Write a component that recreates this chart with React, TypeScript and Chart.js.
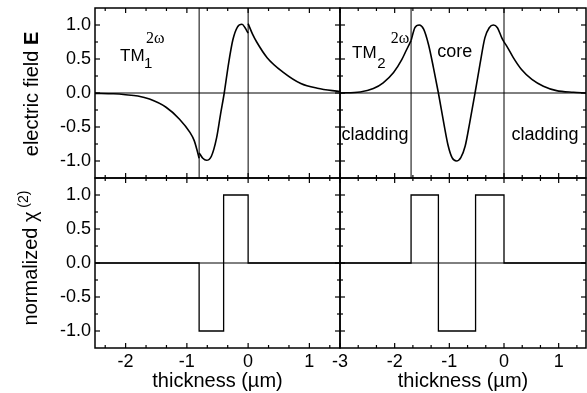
import React, { useEffect, useRef } from "react";
import { Chart, registerables } from "chart.js";
Chart.register(...registerables);

const FONT = "'Liberation Sans', Arial, sans-serif";
const SERIF = "'Liberation Serif', 'Times New Roman', serif";

// ---------- data: TM1 (2ω) electric field, left panel ----------
const tm1CladLeftX = [-2.5, -2.2, -2.0, -1.8, -1.61, -1.34, -1.12, -0.95, -0.88, -0.84, -0.8];
const tm1CladLeftY = [-0.005, -0.012, -0.025, -0.045, -0.09, -0.21, -0.385, -0.58, -0.7, -0.82, -0.96];
const tm1CoreX = [-0.8, -0.74, -0.68, -0.6, -0.515, -0.45, -0.39, -0.32, -0.25, -0.175, -0.1, -0.05, 0];
const tm1CoreY = [-0.88, -0.96, -0.99, -0.93, -0.66, -0.31, 0, 0.43, 0.78, 0.97, 1.01, 0.96, 0.88];
const tm1CladRightX = [0, 0.07, 0.14, 0.31, 0.58, 0.86, 1.13, 1.5];
const tm1CladRightY = [1.02, 0.87, 0.75, 0.52, 0.3, 0.14, 0.07, 0.02];

// ---------- data: TM2 (2ω) electric field, right panel ----------
const tm2CladLeftX = [-3.0, -2.63, -2.39, -2.21, -2.02, -1.87, -1.78, -1.7];
const tm2CladLeftY = [0.0, 0.015, 0.065, 0.15, 0.3, 0.49, 0.64, 0.77];
const tm2CoreX = [-1.7, -1.63, -1.55, -1.47, -1.38, -1.29, -1.2, -1.1, -1.02, -0.95, -0.87, -0.79, -0.71, -0.63, -0.53, -0.44, -0.35, -0.27, -0.195, -0.12, -0.04, 0];
const tm2CoreY = [0.77, 0.96, 1.0, 0.94, 0.71, 0.37, 0, -0.45, -0.78, -0.95, -1.0, -0.95, -0.78, -0.45, 0, 0.42, 0.81, 0.96, 1.0, 0.96, 0.81, 0.75];
const tm2CladRightX = [0, 0.05, 0.17, 0.32, 0.51, 0.72, 0.96, 1.27, 1.5];
const tm2CladRightY = [0.75, 0.69, 0.52, 0.345, 0.2, 0.1, 0.035, 0.01, 0.0];

// ---------- data: normalized chi(2) profiles (each value holds from its x to the next x) ----------
const chi1X = [-2.5, -0.8, -0.4, 0, 1.5];
const chi1Y = [0, -1, 1, 0, 0];
const chi2X = [-3, -1.7, -1.2, -0.52, 0, 1.5];
const chi2Y = [0, 1, -1, 1, 0, 0];

// ---------- interfaces ----------
const tm1Interfaces = [-0.8, 0];
const tm2Interfaces = [-1.7, 0];

// ---------- axes ----------
const leftXRange = [-2.5, 1.5];
const rightXRange = [-3, 1.5];
const yRange = [-1.25, 1.25];
const leftXLabels = [-2, -1, 0, 1];
const rightXLabels = [-3, -2, -1, 0, 1];
const leftXMinor = [-7 / 3, -5 / 3, -4 / 3, -2 / 3, -1 / 3, 1 / 3, 2 / 3, 4 / 3];
const rightXMinor = [-8 / 3, -7 / 3, -5 / 3, -4 / 3, -2 / 3, -1 / 3, 1 / 3, 2 / 3, 4 / 3];
const yLabels = [-1, -0.5, 0, 0.5, 1];
const yMinor = [-0.75, -0.25, 0.25, 0.75];

const xTitle = "thickness (µm)";
const fieldTitle = "electric field ";
const fieldTitleVec = "E";
const chiTitle = "normalized χ";
const chiTitleSup = " (2)";

interface TextItem {
  text: string;
  x: number;
  y: number;
  size: number;
  family: string;
  align: CanvasTextAlign;
}

interface Series {
  x: number[];
  y: number[];
}

interface Panel {
  left: number;
  top: number;
  width: number;
  height: number;
  padding: { left: number; right: number; top: number; bottom: number };
  xRange: number[];
  xLabels: number[];
  xMinor: number[];
  showX: boolean;
  showY: boolean;
  series: Series[];
  stepped: boolean;
  interfaces: number[];
  texts: TextItem[];
  yTitle: "field" | "chi" | null;
}

const tm1Texts: TextItem[] = [
  { text: "TM", x: -2.09, y: 0.47, size: 17, family: FONT, align: "left" },
  { text: "1", x: -1.7, y: 0.37, size: 15, family: FONT, align: "left" },
  { text: "2ω", x: -1.667, y: 0.735, size: 16, family: SERIF, align: "left" },
];
const tm2Texts: TextItem[] = [
  { text: "TM", x: -2.78, y: 0.515, size: 17, family: FONT, align: "left" },
  { text: "2", x: -2.32, y: 0.37, size: 15, family: FONT, align: "left" },
  { text: "2ω", x: -2.07, y: 0.735, size: 16, family: SERIF, align: "left" },
  { text: "core", x: -0.9, y: 0.53, size: 18, family: FONT, align: "center" },
  { text: "cladding", x: -2.36, y: -0.69, size: 18, family: FONT, align: "center" },
  { text: "cladding", x: 0.75, y: -0.69, size: 18, family: FONT, align: "center" },
];

const panels: Panel[] = [
  {
    left: 0, top: 0, width: 350, height: 188,
    padding: { left: 0, right: 10, top: 8, bottom: 10 },
    xRange: leftXRange, xLabels: leftXLabels, xMinor: leftXMinor,
    showX: false, showY: true,
    series: [
      { x: tm1CladLeftX, y: tm1CladLeftY },
      { x: tm1CoreX, y: tm1CoreY },
      { x: tm1CladRightX, y: tm1CladRightY },
    ],
    stepped: false, interfaces: tm1Interfaces, texts: tm1Texts, yTitle: "field",
  },
  {
    left: 320, top: 0, width: 267, height: 188,
    padding: { left: 20, right: 1, top: 8, bottom: 10 },
    xRange: rightXRange, xLabels: rightXLabels, xMinor: rightXMinor,
    showX: false, showY: false,
    series: [
      { x: tm2CladLeftX, y: tm2CladLeftY },
      { x: tm2CoreX, y: tm2CoreY },
      { x: tm2CladRightX, y: tm2CladRightY },
    ],
    stepped: false, interfaces: tm2Interfaces, texts: tm2Texts, yTitle: null,
  },
  {
    left: 0, top: 170, width: 350, height: 223,
    padding: { left: 0, right: 10, top: 8, bottom: 0 },
    xRange: leftXRange, xLabels: leftXLabels, xMinor: leftXMinor,
    showX: true, showY: true,
    series: [{ x: chi1X, y: chi1Y }],
    stepped: true, interfaces: [], texts: [], yTitle: "chi",
  },
  {
    left: 320, top: 170, width: 267, height: 223,
    padding: { left: 20, right: 1, top: 8, bottom: 0 },
    xRange: rightXRange, xLabels: rightXLabels, xMinor: rightXMinor,
    showX: true, showY: false,
    series: [{ x: chi2X, y: chi2Y }],
    stepped: true, interfaces: [], texts: [], yTitle: null,
  },
];

const pts = (xs: number[], ys: number[]) => xs.map((x, i) => ({ x, y: ys[i] }));

function makeDecor(p: Panel) {
  return {
    id: "decor",
    afterDraw(chart: any) {
      const { ctx, chartArea: a } = chart;
      const xs = chart.scales.x;
      const ys = chart.scales.y;
      ctx.save();
      ctx.strokeStyle = "#000";
      ctx.fillStyle = "#000";
      const seg = (x1: number, y1: number, x2: number, y2: number) => {
        ctx.beginPath();
        ctx.moveTo(x1, y1);
        ctx.lineTo(x2, y2);
        ctx.stroke();
      };
      // zero line
      ctx.lineWidth = 1;
      const y0 = ys.getPixelForValue(0);
      seg(a.left, y0, a.right, y0);
      // interfaces
      for (const v of p.interfaces) {
        const px = xs.getPixelForValue(v);
        seg(px, a.top, px, a.bottom);
      }
      // inward ticks
      ctx.lineWidth = 1.2;
      const xt = (vals: number[], len: number) =>
        vals.forEach((v) => {
          const px = xs.getPixelForValue(v);
          seg(px, a.top, px, a.top + len);
          seg(px, a.bottom, px, a.bottom - len);
        });
      const yt = (vals: number[], len: number) =>
        vals.forEach((v) => {
          const py = ys.getPixelForValue(v);
          seg(a.left, py, a.left + len, py);
          seg(a.right, py, a.right - len, py);
        });
      xt(p.xLabels, 5);
      xt(p.xMinor, 3);
      yt(yLabels, 5);
      yt(yMinor, 3);
      // frame
      ctx.lineWidth = 1.5;
      ctx.strokeRect(a.left, a.top, a.right - a.left, a.bottom - a.top);
      // annotations
      ctx.textBaseline = "alphabetic";
      for (const t of p.texts) {
        ctx.font = `${t.size}px ${t.family}`;
        ctx.textAlign = t.align;
        ctx.fillText(t.text, xs.getPixelForValue(t.x), ys.getPixelForValue(t.y));
      }
      // y-axis title
      if (p.yTitle) {
        const cy = (a.top + a.bottom) / 2;
        ctx.save();
        ctx.textAlign = "left";
        if (p.yTitle === "field") {
          ctx.translate(38, cy + 1);
          ctx.rotate(-Math.PI / 2);
          ctx.font = `20px ${FONT}`;
          const w1 = ctx.measureText(fieldTitle).width;
          ctx.font = `bold 20px ${FONT}`;
          const w2 = ctx.measureText(fieldTitleVec).width;
          const start = -(w1 + w2) / 2;
          ctx.font = `20px ${FONT}`;
          ctx.fillText(fieldTitle, start, 0);
          ctx.font = `bold 20px ${FONT}`;
          ctx.fillText(fieldTitleVec, start + w1, 0);
        } else {
          ctx.translate(37, cy - 5);
          ctx.rotate(-Math.PI / 2);
          ctx.font = `20px ${FONT}`;
          const w1 = ctx.measureText(chiTitle).width;
          ctx.font = `14px ${FONT}`;
          const w2 = ctx.measureText(chiTitleSup).width;
          const start = -(w1 + w2) / 2;
          ctx.font = `20px ${FONT}`;
          ctx.fillText(chiTitle, start, 0);
          ctx.font = `14px ${FONT}`;
          ctx.fillText(chiTitleSup, start + w1, -9);
        }
        ctx.restore();
      }
      ctx.restore();
    },
  };
}

function PanelChart({ p }: { p: Panel }) {
  const ref = useRef<HTMLCanvasElement | null>(null);
  useEffect(() => {
    if (!ref.current) return;
    const chart = new Chart(ref.current, {
      type: "line",
      data: {
        datasets: p.series.map((s) => ({
          data: pts(s.x, s.y),
          borderColor: "#000",
          backgroundColor: "#000",
          borderWidth: p.stepped ? 1.3 : 1.6,
          pointRadius: 0,
          fill: false,
          tension: p.stepped ? 0 : 0.4,
          cubicInterpolationMode: p.stepped ? "default" : "monotone",
          stepped: p.stepped ? "before" : false,
        })),
      } as any,
      options: {
        animation: false,
        responsive: false,
        events: [],
        layout: { padding: p.padding },
        plugins: {
          legend: { display: false },
          tooltip: { enabled: false },
          title: { display: false },
        },
        scales: {
          x: {
            type: "linear",
            min: p.xRange[0],
            max: p.xRange[1],
            display: p.showX,
            grid: { display: false, drawTicks: false },
            border: { display: false },
            ticks: {
              font: { family: FONT, size: 18 },
              color: "#000",
              padding: 3,
              maxRotation: 0,
              autoSkip: false,
              callback: (v: any) => String(v),
            },
            afterBuildTicks: (s: any) => {
              s.ticks = p.xLabels.map((v) => ({ value: v }));
            },
            afterFit: (s: any) => {
              if (p.showX) s.height = 45;
              s.paddingLeft = 0;
              s.paddingRight = 0;
            },
            title: {
              display: true,
              text: xTitle,
              font: { family: FONT, size: 20 },
              color: "#000",
              padding: { top: 0, bottom: 0 },
            },
          },
          y: {
            type: "linear",
            min: yRange[0],
            max: yRange[1],
            display: p.showY,
            grid: { display: false, drawTicks: false },
            border: { display: false },
            ticks: {
              font: { family: FONT, size: 18 },
              color: "#000",
              padding: 4,
              autoSkip: false,
              callback: (v: any) => Number(v).toFixed(1),
            },
            afterBuildTicks: (s: any) => {
              s.ticks = yLabels.map((v) => ({ value: v }));
            },
            afterFit: (s: any) => {
              if (p.showY) s.width = 95;
              s.paddingTop = 0;
              s.paddingBottom = 0;
            },
          },
        },
      } as any,
      plugins: [makeDecor(p)],
    });
    return () => chart.destroy();
  }, [p]);
  return (
    <div style={{ position: "absolute", left: p.left, top: p.top, width: p.width, height: p.height }}>
      <canvas ref={ref} width={p.width} height={p.height} style={{ width: p.width, height: p.height, display: "block" }} />
    </div>
  );
}

export default function App() {
  return (
    <div style={{ position: "absolute", left: 0, top: 0, width: 587, height: 393, background: "#fff", overflow: "hidden" }}>
      {panels.map((p, i) => (
        <PanelChart key={i} p={p} />
      ))}
    </div>
  );
}
